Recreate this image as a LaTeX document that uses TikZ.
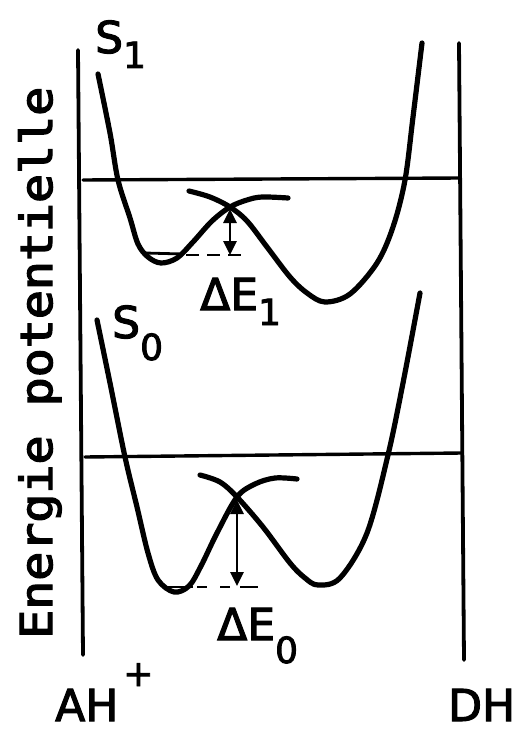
\documentclass[tikz,border=0pt]{standalone}
\usepackage{fontspec}
\setmainfont{DejaVu Sans}
\newfontfamily\lblf[FakeBold=2.5]{DejaVu Sans}
\newfontfamily\monof[FakeBold=3]{DejaVu Sans Mono}
\usetikzlibrary{arrows.meta}
\newcommand{\subf}{\fontsize{36}{36}\selectfont}
\tikzset{
  frame/.style={line width=3.8pt, line cap=round},
  hline/.style={line width=3.4pt, line cap=round},
  curve/.style={line width=5.2pt, line cap=round, line join=round},
  gap/.style={line width=2.8pt},
  gapdash/.style={line width=2.8pt, dash pattern=on 13pt off 8pt},
  dearrow/.style={line width=2.8pt, {Triangle[length=14pt,width=13pt]}-{Triangle[length=14pt,width=13pt]}},
  lbl/.style={inner sep=0pt, anchor=base west, text depth=0pt, font=\lblf\fontsize{44}{44}\selectfont}
}
\begin{document}
\begin{tikzpicture}[x=1pt,y=-1pt]
\useasboundingbox[fill=white] (0,0) rectangle (517,730);
% frame
\draw[frame] (78,50) -- (83,655);
\draw[frame] (459,43) -- (464,660);
\draw[hline] (83,180) -- (460,178);
\draw[hline] (85,457) -- (462,453);
% S1 curves
\draw[curve] plot[smooth, tension=0.55] coordinates {(98,74) (110,133) (118,180) (130,218) (138,244) (148,257) (161,263) (177,258) (193,242) (212,221) (230,207) (247,200) (262,197) (288,198)};
\draw[curve] plot[smooth, tension=0.55] coordinates {(189,191) (210,197) (230,207) (247,221) (267,247) (290,277) (307,293) (325,302) (350,294) (377,263) (393,227) (405,180) (413,117) (422,43)};
% S0 curves
\draw[curve] plot[smooth, tension=0.55] coordinates {(97,320) (110,383) (125,457) (137,507) (148,553) (158,580) (174,592) (189,586) (201,566) (217,533) (237,497) (255,484) (275,478) (297,479)};
\draw[curve] plot[smooth, tension=0.55] coordinates {(200,475) (220,482) (237,497) (263,527) (290,563) (305,578) (318,585) (340,578) (367,533) (388,455) (403,383) (420,293)};
% energy gap upper
\coordinate (x1) at (230,209);
\coordinate (b1) at (230,255);
\coordinate (l1a) at (145,253);
\coordinate (l1b) at (183,254);
\coordinate (l1c) at (186,255);
\coordinate (l1d) at (243,255);
\draw[gap] (l1a) -- (l1b);
\draw[gapdash] (l1c) -- (l1d);
\draw[dearrow] (x1) -- (b1);
% energy gap lower
\coordinate (x0) at (237,500);
\coordinate (b0) at (237,586);
\coordinate (l0a) at (163,587);
\coordinate (l0b) at (193,587);
\coordinate (l0c) at (197,587);
\coordinate (l0d) at (258,587);
\draw[gap] (l0a) -- (l0b);
\draw[gap, dash pattern=on 10pt off 13pt on 10pt off 10pt on 18pt] (l0c) -- (l0d);
\draw[dearrow] (x0) -- (b0);
% labels
\node[lbl] (s1) at (95,53) {S\raisebox{-15pt}{\subf 1}};
\node[lbl] (s0) at (112,338) {S\raisebox{-22pt}{\subf 0}};
\node[lbl] (de1) at (200,310) {ΔE\raisebox{-15pt}{\subf 1}};
\node[lbl] (de0) at (217,640) {ΔE\raisebox{-23pt}{\subf 0}};
\node[lbl] (ah) at (55,721) {AH\kern5pt\raisebox{35pt}{\subf +}};
\node[lbl] (dh) at (448,721) {DH};
\node[inner sep=0pt, anchor=base west, rotate=90, text depth=0pt, font=\monof\fontsize{44}{44}\selectfont] (ep) at (52,639) {\scalebox{1.097}[1]{Energie potentielle}};
\end{tikzpicture}
\end{document}
